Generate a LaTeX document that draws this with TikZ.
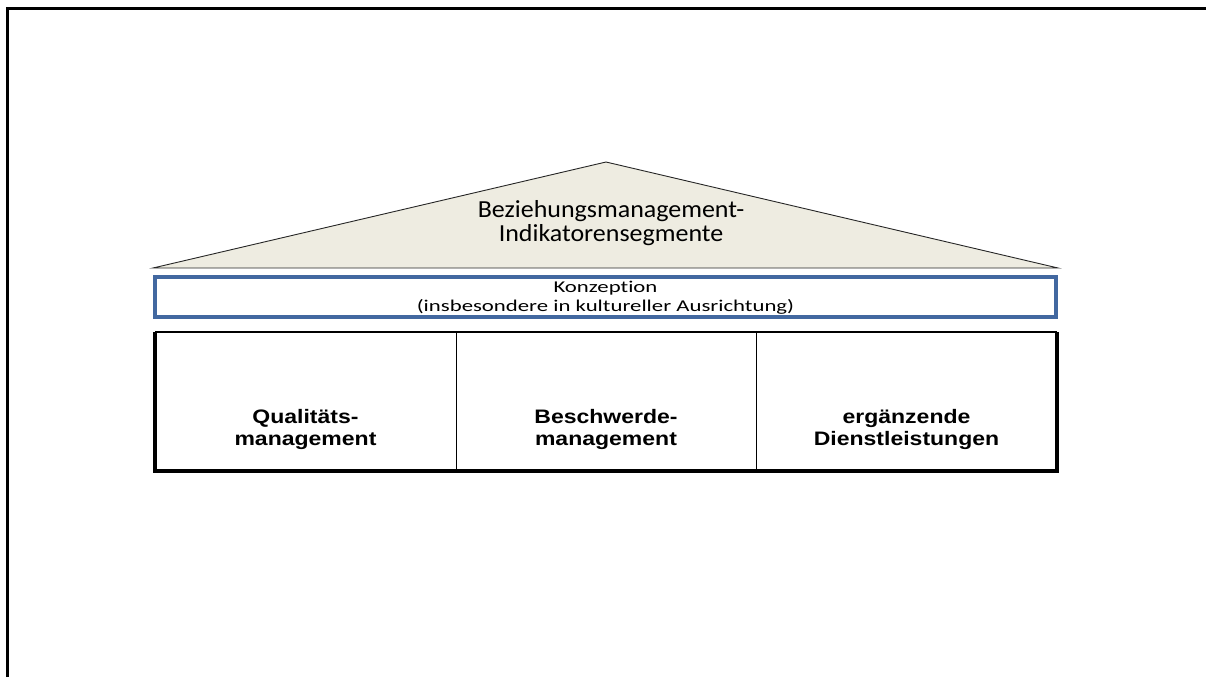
\documentclass[tikz,border=0pt]{standalone}
\usepackage{fontspec}
\setmainfont{Carlito}[Ligatures=NoCommon]
\newfontfamily\pillarfont{Liberation Sans}
\usetikzlibrary{positioning}
\definecolor{roofbeige}{RGB}{238,236,225}
\definecolor{conceptblue}{RGB}{66,104,160}
\tikzstyle{frame}=[line width=3pt]
\tikzstyle{roof}=[fill=roofbeige, draw=black!85, line width=0.9pt]
\tikzstyle{rooftext}=[align=center, font=\fontsize{24.5}{24}\selectfont, xscale=1.06]
\tikzstyle{concept}=[draw=conceptblue, line width=3.2pt, minimum width=901pt, minimum height=40pt, inner sep=0pt, outer sep=0pt]
\tikzstyle{concepttext}=[align=center, font=\fontsize{16.5}{19}\selectfont, xscale=1.38]
\tikzstyle{pillar}=[draw=black, line width=1pt, minimum width=301pt, minimum height=139pt, inner sep=0pt, outer sep=0pt]
\tikzstyle{pillartext}=[align=center, font=\pillarfont\bfseries\fontsize{19.5}{22.5}\selectfont, xscale=1.18]
\tikzstyle{pillaredge}=[line width=3.5pt, line join=miter]

\begin{document}
\begin{tikzpicture}[x=1pt, y=-1pt]
  \useasboundingbox (0,0) rectangle (1206,677);
  \draw[frame] (7.5,677) -- (7.5,9) -- (1206,9);
  % roof
  \coordinate (apex) at (606,162);
  \coordinate (eaveL) at (153,268);
  \coordinate (eaveR) at (1058,268);
  \draw[roof] (eaveL) -- (apex) -- (eaveR) -- cycle;
  \node[rooftext] (roofLabel) at (611,223)
    {Beziehungsmanagement-\\Indikatorensegmente};
  % concept beam
  \node[concept] (concept) at (605.5,297) {};
  \node[concepttext] (conceptLabel) at ([yshift=-1pt]concept.center)
    {Konzeption\\(insbesondere in kultureller Ausrichtung)};
  % pillars
  \node[pillar] (quali) at (305.5,401.5) {};
  \node[pillar, minimum width=300pt, right=0pt of quali] (beschwerde) {};
  \node[pillar, right=0pt of beschwerde] (dienst) {};
  \draw[pillaredge] (quali.north west) -- (quali.south west)
    -- (dienst.south east) -- (dienst.north east);
  \draw[line width=2pt] (quali.north west) -- (dienst.north east);
  \node[pillartext] at ([yshift=-28pt]quali.center) {Qualitäts-\\management};
  \node[pillartext] at ([yshift=-28pt]beschwerde.center) {Beschwerde-\\management};
  \node[pillartext] at ([yshift=-28pt]dienst.center) {ergänzende\\Dienstleistungen};
\end{tikzpicture}
\end{document}
